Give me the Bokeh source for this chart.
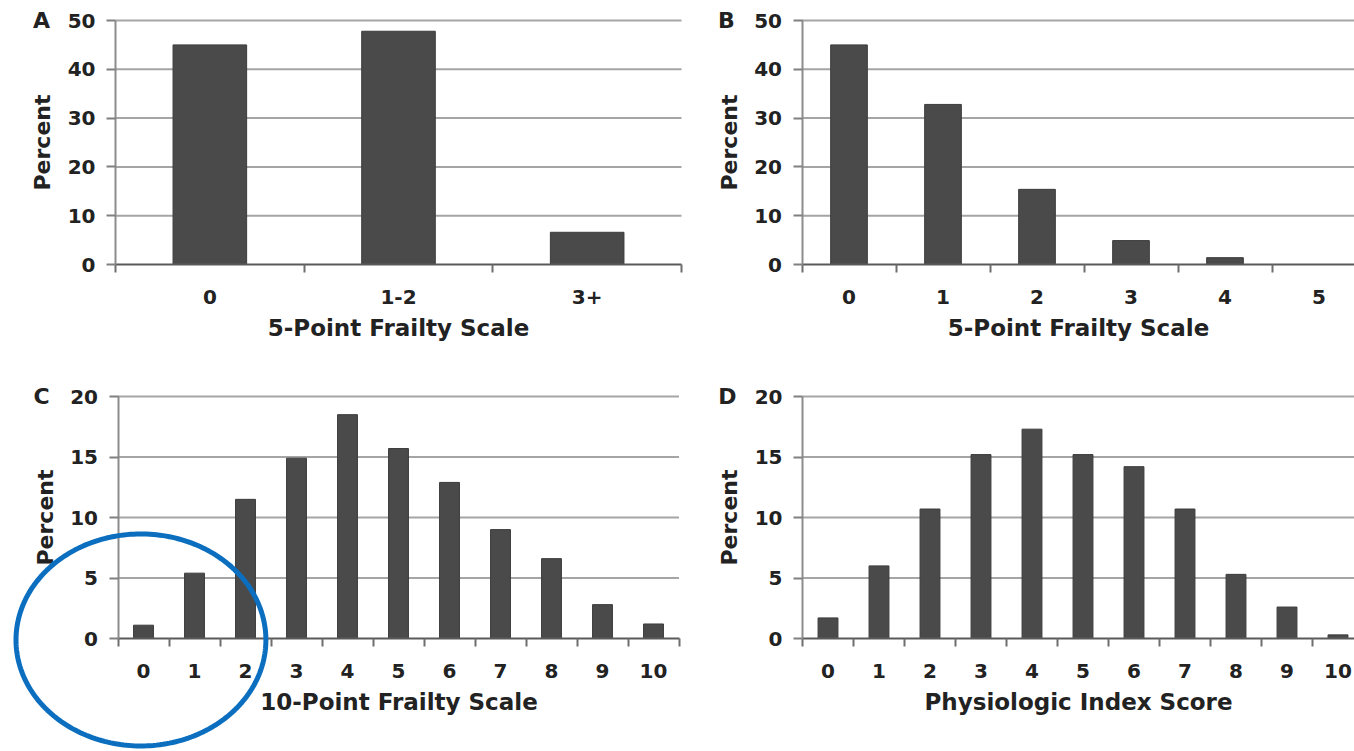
import numpy as np
from bokeh.plotting import figure
from bokeh.models import Range1d, FixedTicker, Label, PolyAnnotation, ColumnDataSource
from bokeh.layouts import column, row
from bokeh.embed import file_html
from bokeh.resources import INLINE

# ---- data ----
a_cats = ["0", "1-2", "3+"]
a_vals = [45.0, 47.8, 6.6]

b_cats = ["0", "1", "2", "3", "4", "5"]
b_vals = [45.0, 32.8, 15.4, 4.9, 1.4, 0.0]

c_cats = ["0", "1", "2", "3", "4", "5", "6", "7", "8", "9", "10"]
c_vals = [1.1, 5.4, 11.5, 14.9, 18.5, 15.7, 12.9, 9.0, 6.6, 2.8, 1.2]

d_cats = ["0", "1", "2", "3", "4", "5", "6", "7", "8", "9", "10"]
d_vals = [1.7, 6.0, 10.7, 15.2, 17.3, 15.2, 14.2, 10.7, 5.3, 2.6, 0.3]

FONT = "DejaVu Sans"
TEXT = "#222222"
BAR = "#4a4a4a"


def panel(letter, cats, vals, ymax, ystep, xlabel, width, height,
          px_left, px_step, px_zero, px_top, letter_x):
    """px_left: canvas x of the plot area's left edge; px_step: pixels per category;
    px_zero: canvas y of value 0; px_top: canvas y of ymax."""
    n = len(cats)
    xs = list(range(n))
    sy = (px_zero - px_top) / ymax
    x0 = -0.5 - px_left / px_step
    x1 = -0.5 + (width - px_left) / px_step
    y0 = -(height - px_zero) / sy
    y1 = ymax + px_top / sy
    p = figure(width=width, height=height,
               x_range=Range1d(x0, x1), y_range=Range1d(y0, y1),
               output_backend="svg", toolbar_location=None,
               min_border_left=0, min_border_right=0,
               min_border_top=0, min_border_bottom=0)
    p.outline_line_color = None
    p.background_fill_color = "white"
    p.border_fill_color = "white"
    p.xgrid.visible = False
    p.ygrid.visible = False

    yticks = list(range(0, ymax + 1, ystep))
    x_right = min(n - 0.5, x1)

    # horizontal grid lines at the y ticks, spanning the plot area only
    gsrc = ColumnDataSource(dict(y=yticks[1:]))
    p.segment(x0=-0.5, x1=x_right, y0="y", y1="y", source=gsrc,
              line_color="#a5a5a5", line_width=2)

    src = ColumnDataSource(dict(x=xs, top=vals))
    p.vbar(x="x", top="top", width=0.39, source=src,
           fill_color=BAR, line_color="#3c3c3c", line_width=1)

    # x axis: labels at category centres, tick marks at category boundaries
    xa = p.xaxis[0]
    xa.fixed_location = 0
    xa.bounds = (-0.5, n - 0.5)
    xa.ticker = FixedTicker(ticks=xs, minor_ticks=[i - 0.5 for i in range(n + 1)])
    xa.major_label_overrides = {i: c for i, c in enumerate(cats)}
    xa.major_tick_line_color = None
    xa.major_tick_out = 0
    xa.major_tick_in = 0
    xa.minor_tick_out = 8
    xa.minor_tick_in = 0
    xa.minor_tick_line_color = "#6e6e6e"
    xa.minor_tick_line_width = 2
    xa.axis_line_color = "#5a5a5a"
    xa.axis_line_width = 2
    xa.major_label_text_font = FONT
    xa.major_label_text_font_size = "20px"
    xa.major_label_text_font_style = "bold"
    xa.major_label_text_color = TEXT
    xa.major_label_standoff = 17
    xa.axis_label = xlabel
    xa.axis_label_text_font = FONT
    xa.axis_label_text_font_size = "23px"
    xa.axis_label_text_font_style = "bold"
    xa.axis_label_text_color = TEXT
    xa.axis_label_standoff = 8

    # y axis
    ya = p.yaxis[0]
    ya.fixed_location = -0.5
    ya.bounds = (0, ymax)
    ya.ticker = FixedTicker(ticks=yticks)
    ya.minor_tick_line_color = None
    ya.major_tick_out = 9
    ya.major_tick_in = 0
    ya.major_tick_line_color = "#808080"
    ya.major_tick_line_width = 2
    ya.axis_line_color = "#8c8c8c"
    ya.axis_line_width = 2
    ya.major_label_text_font = FONT
    ya.major_label_text_font_size = "20px"
    ya.major_label_text_font_style = "bold"
    ya.major_label_text_color = TEXT
    ya.major_label_standoff = 11
    ya.axis_label = "Percent"
    ya.axis_label_text_font = FONT
    ya.axis_label_text_font_size = "22px"
    ya.axis_label_text_font_style = "bold"
    ya.axis_label_text_color = TEXT
    ya.axis_label_standoff = 10

    p.add_layout(Label(x=letter_x, x_units="screen", y=ymax, y_units="data",
                       text=letter, text_align="center", text_baseline="middle",
                       text_font=FONT, text_font_size="22px",
                       text_font_style="bold", text_color=TEXT))
    return p


pa = panel("A", a_cats, a_vals, 50, 10, "5-Point Frailty Scale",
           688, 384, 115.0, 188.67, 264, 20, 41)
pb = panel("B", b_cats, b_vals, 50, 10, "5-Point Frailty Scale",
           666, 384, 113.5, 94.0, 264, 20, 38)
pc = panel("C", c_cats, c_vals, 20, 5, "10-Point Frailty Scale",
           688, 367, 117.5, 51.0, 254, 12, 41)
pd = panel("D", d_cats, d_vals, 20, 5, "Physiologic Index Score",
           666, 367, 114.0, 51.0, 254, 12, 39)

# blue highlight ellipse around the lowest scores of panel C
t = np.linspace(0, 2 * np.pi, 240)
ex = (-0.05 + 2.45 * np.cos(t)).tolist()
ey = (-0.12 + 8.76 * np.sin(t)).tolist()
pc.add_layout(PolyAnnotation(xs=ex, ys=ey, xs_units="data", ys_units="data",
                             fill_color=None, fill_alpha=0,
                             line_color="#0b6ebe", line_alpha=1.0, line_width=5))

layout = column(row(pa, pb), row(pc, pd))

open("out.html", "w").write(file_html(layout, INLINE))
